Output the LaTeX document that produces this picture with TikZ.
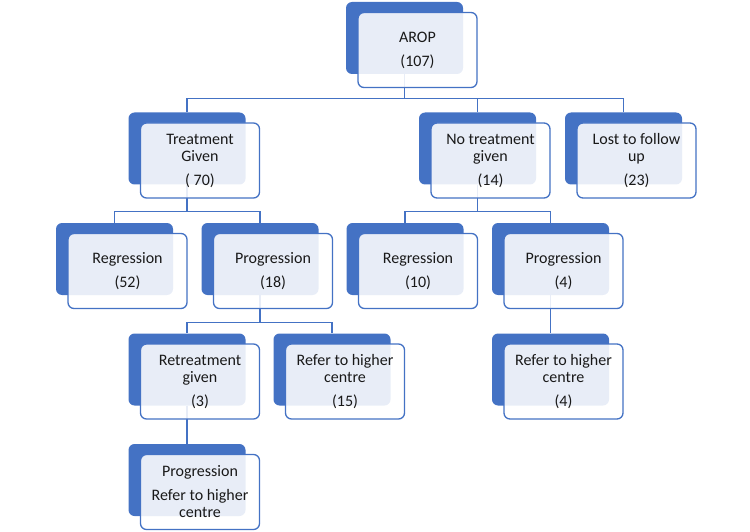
\documentclass[tikz,border=0pt]{standalone}
\usepackage{fontspec}
\setmainfont{Carlito}
\usetikzlibrary{positioning}
\definecolor{arblue}{HTML}{4472C4}
\tikzset{
  back/.style={fill=arblue,rounded corners=6pt,minimum width=117pt,minimum height=72pt,inner sep=0pt},
  front/.style={draw=arblue,line width=1.3pt,fill=white,fill opacity=.88,text opacity=1,rounded corners=6pt,
    minimum width=119pt,minimum height=75pt,inner sep=0pt,align=center,text=black!90,
    font=\fontsize{16pt}{17pt}\selectfont},
  link/.style={draw=arblue,line width=1.3pt}
}
\def\boxlist{arop/404.5/-38/{AROP\\[7pt](107)},
  treat/187/-148.5/{Treatment\\Given\\[7pt]( 70)},
  notreat/477.5/-148.5/{No treatment\\given\\[7pt](14)},
  lost/623.5/-148.5/{Lost to follow\\up\\[7pt](23)},
  regA/114.5/-259/{Regression\\[7pt](52)},
  progA/260/-259/{Progression\\[7pt](18)},
  regB/405/-259/{Regression\\[7pt](10)},
  progB/550.5/-259/{Progression\\[7pt](4)},
  retreat/187/-369.5/{Retreatment\\given\\[7pt](3)},
  referA/332/-369.5/{Refer to higher\\centre\\[7pt](15)},
  referB/550.5/-369.5/{Refer to higher\\centre\\[7pt](4)},
  progref/187/-480/{Progression\\[7pt]Refer to higher\\centre}}

\begin{document}
\begin{tikzpicture}[x=1pt,y=1pt]
\useasboundingbox (0,0) rectangle (750,-532);
% dark back boxes
\foreach \n/\x/\y/\t in \boxlist{\node[back] (\n) at (\x,\y) {};}
% connectors
\foreach \c in {treat,notreat,lost}{\draw[link] (arop.south) -- ++(0,-24.5) -| (\c.north);}
\foreach \c in {regA,progA}{\draw[link] (treat.south) -- ++(0,-26.5) -| (\c.north);}
\foreach \c in {regB,progB}{\draw[link] (notreat.south) -- ++(0,-26.5) -| (\c.north);}
\foreach \c in {retreat,referA}{\draw[link] (progA.south) -- ++(0,-27) -| (\c.north);}
\draw[link] (progB.south) -- (referB.north);\draw[link] (retreat.south) -- (progref.north);
% light front boxes with the text
\foreach \n/\x/\y/\t in \boxlist{\node[front] (\n-t) at ([shift={(13,-12)}]\n.center) {\t};}
\end{tikzpicture}
\end{document}
